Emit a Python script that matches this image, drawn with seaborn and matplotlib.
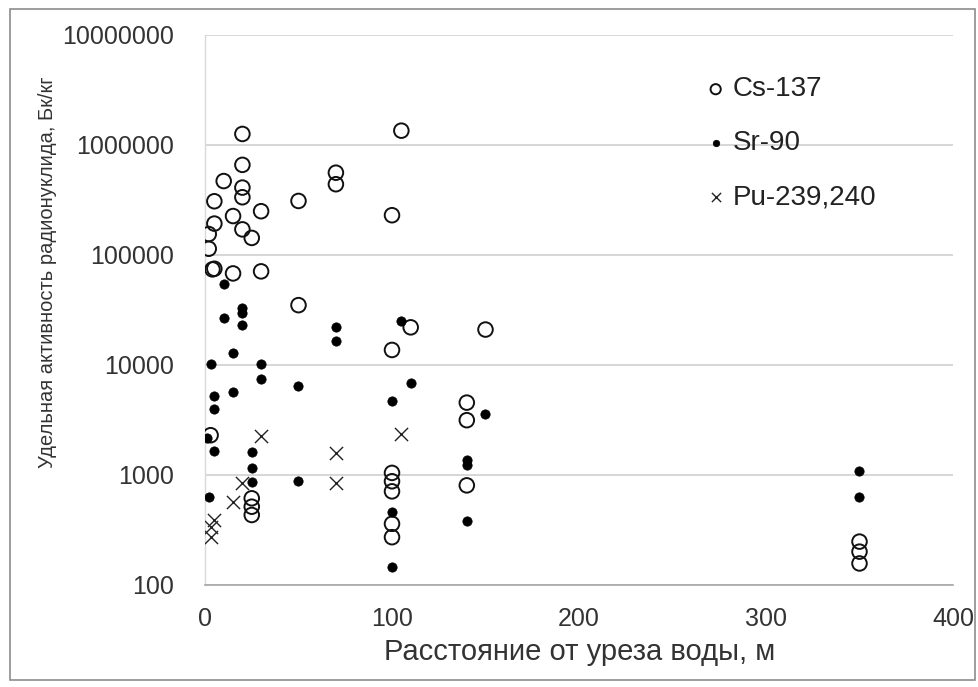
import matplotlib
matplotlib.use("Agg")
import matplotlib.pyplot as plt
import seaborn as sns
import pandas as pd
from matplotlib.patches import Rectangle
from matplotlib.ticker import FixedLocator, FixedFormatter, NullLocator

# ---- data ----
cs_x = [2, 2, 3, 5, 5, 5, 4, 10, 15, 15, 20, 20, 20, 20, 20, 25, 25, 25, 25,
        30, 30, 50, 50, 70, 70, 100, 100, 100, 100, 100, 100, 100, 105, 110,
        140, 140, 140, 150, 350, 350, 350]
cs_y = [155000, 114000, 2300, 308000, 193000, 75000, 74000, 470000, 226000, 68000,
        1260000, 660000, 410000, 335000, 171000, 143000, 614, 515, 433,
        250000, 71000, 310000, 35000, 560000, 440000, 230000, 13700, 1045, 877, 710, 360, 272,
        1350000, 22000, 4550, 3150, 805, 21000, 248, 201, 157]

sr_x = [1, 2, 3, 5, 5, 5, 10, 10, 15, 15, 20, 20, 20, 25, 25, 25, 30, 30, 50, 50,
        70, 70, 100, 100, 100, 105, 110, 140, 140, 140, 150, 350, 350]
sr_y = [2150, 635, 10200, 5250, 4000, 1660, 55000, 26500, 12800, 5700, 33000, 29500, 23000,
        1630, 1150, 870, 10200, 7500, 6500, 880, 22000, 16400, 4700, 460, 147, 25000, 6900,
        1380, 1240, 378, 3600, 1090, 635]

pu_x = [3, 3, 5, 15, 20, 30, 70, 70, 105]
pu_y = [340, 275, 390, 572, 840, 2260, 1570, 847, 2340]

labels = ["Cs-137", "Sr-90", "Pu-239,240"]
y_ticks = [100, 1000, 10000, 100000, 1000000, 10000000]
x_ticks = [0, 100, 200, 300, 400]
x_label = "Расстояние от уреза воды, м"
y_label = "Удельная активность радионуклида, Бк/кг"

sns.set_theme(style="white")
plt.rcParams["font.family"] = ["Liberation Sans", "DejaVu Sans"]
txt = "#333333"

fig = plt.figure(figsize=(9.79, 6.87), dpi=100)
ax = fig.add_axes([205 / 979, 1 - 585 / 687, (953 - 205) / 979, (585 - 35) / 687])

df_cs = pd.DataFrame({"x": cs_x, "y": cs_y})
df_sr = pd.DataFrame({"x": sr_x, "y": sr_y})
df_pu = pd.DataFrame({"x": pu_x, "y": pu_y})

sns.scatterplot(data=df_cs, x="x", y="y", ax=ax, marker="o", s=110,
                facecolors="none", edgecolor="#111111", linewidth=1.4, label=labels[0], zorder=3)
sns.scatterplot(data=df_sr, x="x", y="y", ax=ax, marker="o", s=45,
                color="#000000", edgecolor="#000000", linewidth=0.5, label=labels[1], zorder=4)
sns.scatterplot(data=df_pu, x="x", y="y", ax=ax, marker="x", s=90,
                color="#222222", linewidth=1.0, label=labels[2], zorder=4)

ax.set_yscale("log")
ax.set_ylim(100, 10000000)
ax.set_xlim(0, 400)
ax.yaxis.set_major_locator(FixedLocator(y_ticks))
ax.yaxis.set_major_formatter(FixedFormatter([str(v) for v in y_ticks]))
ax.yaxis.set_minor_locator(NullLocator())
ax.xaxis.set_major_locator(FixedLocator(x_ticks))
ax.xaxis.set_major_formatter(FixedFormatter([str(v) for v in x_ticks]))

ax.grid(axis="y", color="#cfcfcf", linewidth=1.2)
ax.grid(axis="x", visible=False)
for s in ["top", "right"]:
    ax.spines[s].set_visible(False)
ax.spines["left"].set_color("#d9d9d9")
ax.spines["bottom"].set_color("#a6a6a6")
ax.spines["left"].set_linewidth(1.0)
ax.spines["bottom"].set_linewidth(1.2)

ax.tick_params(axis="y", length=0, pad=22, labelsize=18, labelcolor=txt)
ax.tick_params(axis="x", length=0, pad=16, labelsize=18, labelcolor=txt)
ax.set_xlabel(x_label, fontsize=21, color=txt)
ax.set_ylabel(y_label, fontsize=14.5, color=txt)
ax.xaxis.set_label_coords(0.501, -0.122)
ax.yaxis.set_label_coords(-0.210, 0.569)
ax.xaxis.label.set_va("center")
ax.yaxis.label.set_va("center")

leg = ax.legend(loc="upper left", bbox_to_anchor=(0.640, 0.970), frameon=False,
                fontsize=20, labelspacing=1.0, handlelength=0.5, handletextpad=0.35,
                markerscale=0.7)
for t in leg.get_texts():
    t.set_color("#222222")

fig.patches.append(Rectangle((10 / 979, 1 - 680 / 687), 965 / 979, 671 / 687,
                             transform=fig.transFigure, fill=False,
                             edgecolor="#8c8c8c", linewidth=1.2))

fig.savefig("out.png", dpi=100)
